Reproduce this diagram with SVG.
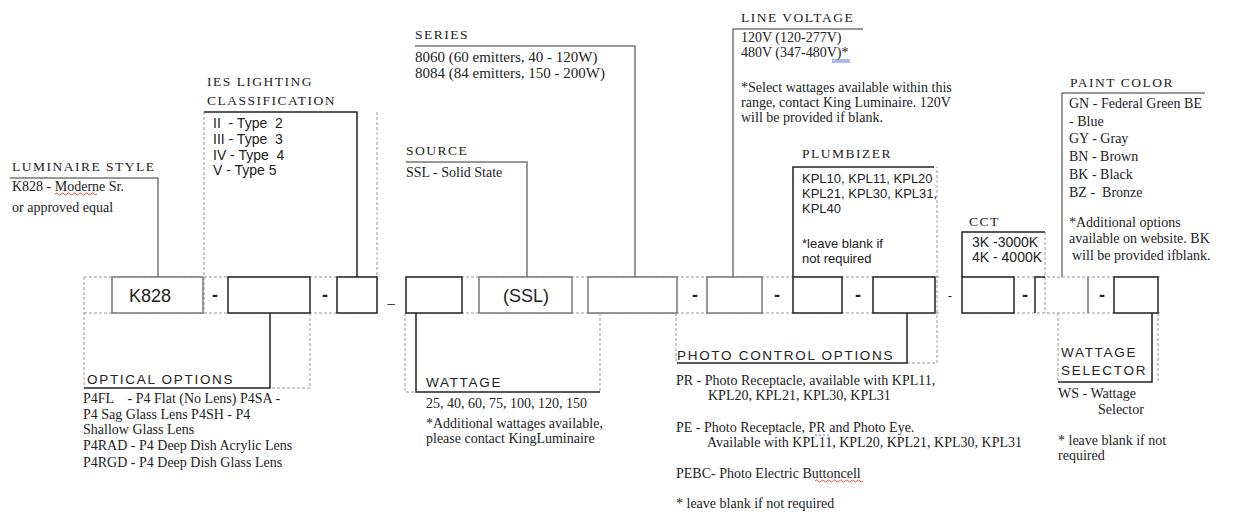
<svg xmlns="http://www.w3.org/2000/svg" width="1233" height="515" viewBox="0 0 1233 515">
<style>
text{fill:#222}
.h{font-family:"Liberation Serif",serif;font-size:13.5px;letter-spacing:1.5px}
.s{font-family:"Liberation Serif",serif;font-size:14px}
.s15{font-family:"Liberation Serif",serif;font-size:15px}
.a{font-family:"Liberation Sans",sans-serif;font-size:13px}
.a14{font-family:"Liberation Sans",sans-serif;font-size:14px}
.al{font-family:"Liberation Sans",sans-serif;font-size:13.5px;letter-spacing:1.7px}
.big{font-family:"Liberation Sans",sans-serif;font-size:18px}
.dash{font-family:"Liberation Sans",sans-serif;font-size:18px;font-weight:bold}
.bk{fill:#fff;stroke:#222;stroke-width:1.5}
.gy{fill:#fff;stroke:#777;stroke-width:1.5}
.dl{fill:none;stroke:#999;stroke-width:1;stroke-dasharray:3 2}
.cb{fill:none;stroke:#222;stroke-width:1.5}
.cg{fill:none;stroke:#777;stroke-width:1.5}
.sq{fill:none;stroke:#d22;stroke-width:0.8}
.bl{fill:none;stroke:#35c;stroke-width:0.8}
</style>

<g id="guides">
<path class="dl" d="M84 277H377M406 277H940M962 277H1160M84 313H377M406 313H940M962 313H1160"/>
<path class="dl" d="M84 277V388M204 112V313M377 112V277M310 313V388H270M405 313V392H416M600 313V392M676 313V363M907 363H937V167M1045 232V313M1058 313V382M1158 313V382"/>
</g>

<g id="connectors">
<path class="cg" d="M10 178H158V277"/>
<path class="cb" d="M204 112H357V277"/>
<path class="cg" d="M415 46H635V277"/>
<path class="cg" d="M406 162H527V277"/>
<path class="cg" d="M733 277V29H863"/>
<path class="cb" d="M793 277V167H934"/>
<path class="cb" d="M962 277V232H1045"/>
<path class="cg" d="M1062 277V93H1205"/>
<path class="cb" d="M270 313V388H84"/>
<path class="cb" d="M416 313V392H600"/>
<path class="cb" d="M907 313V363H677"/>
<path class="cb" d="M1152 313V382H1058"/>
</g>

<g id="row">
<rect class="gy" x="112" y="277" width="91" height="36"/>
<text class="big" x="150" y="302" text-anchor="middle">K828</text>
<text class="dash" x="215" y="301" text-anchor="middle">-</text>
<rect class="bk" x="228" y="277" width="82" height="36"/>
<text class="dash" x="325" y="301" text-anchor="middle">-</text>
<rect class="bk" x="337" y="277" width="40" height="36"/>
<text class="a" x="391" y="302" text-anchor="middle">_</text>
<rect class="bk" x="406" y="277" width="56" height="36"/>
<rect class="gy" x="479" y="277" width="93" height="36"/>
<text class="big" x="526" y="302" text-anchor="middle">(SSL)</text>
<rect class="gy" x="588" y="277" width="89" height="36"/>
<text class="dash" x="695" y="301" text-anchor="middle">-</text>
<rect class="gy" x="707" y="277" width="55" height="36"/>
<text class="dash" x="777" y="301" text-anchor="middle">-</text>
<rect class="bk" x="793" y="277" width="49" height="36"/>
<text class="dash" x="858" y="301" text-anchor="middle">-</text>
<rect class="bk" x="873" y="277" width="62" height="36"/>
<text class="a" x="950" y="300" text-anchor="middle">-</text>
<rect class="bk" x="962" y="277" width="52" height="36"/>
<text class="dash" x="1025" y="301" text-anchor="middle">-</text>
<path class="cb" d="M1035 313V277H1045"/>
<path class="cg" d="M1088 277V313"/>
<text class="dash" x="1102" y="301" text-anchor="middle">-</text>
<rect class="bk" x="1114" y="277" width="44" height="36"/>
</g>

<g id="luminaire-style">
<text class="h" x="12" y="171">LUMINAIRE STYLE</text>
<text class="s" x="12" y="191">K828 - Moderne Sr.</text>
<path class="sq" d="M55 194q1.5 -2 3 0t3 0t3 0t3 0t3 0t3 0t3 0t3 0t3 0t3 0t3 0t3 0t3 0t3 0"/>
<text class="s" x="12" y="212">or approved equal</text>
</g>

<g id="ies">
<text class="h" x="207" y="86">IES LIGHTING</text>
<text class="h" x="207" y="105">CLASSIFICATION</text>
<text class="a14" x="213" y="128" xml:space="preserve">II  - Type  2</text>
<text class="a14" x="213" y="144" xml:space="preserve">III - Type  3</text>
<text class="a14" x="213" y="160" xml:space="preserve">IV - Type  4</text>
<text class="a14" x="213" y="175">V - Type 5</text>
</g>

<g id="series">
<text class="h" x="415" y="39">SERIES</text>
<text class="s15" x="415" y="62">8060 (60 emitters, 40 - 120W)</text>
<text class="s15" x="415" y="78">8084 (84 emitters, 150 - 200W)</text>
</g>

<g id="source">
<text class="h" x="406" y="155">SOURCE</text>
<text class="s" x="406" y="177">SSL - Solid State</text>
</g>

<g id="line-voltage">
<text class="h" x="741" y="22">LINE VOLTAGE</text>
<text class="s" x="741" y="42">120V (120-277V)</text>
<text class="s" x="741" y="57">480V (347-480V)*</text>
<path class="bl" d="M832 60H850M832 62H850"/>
<text class="s" x="741" y="92">*Select wattages available within this</text>
<text class="s" x="741" y="107">range, contact King Luminaire. 120V</text>
<text class="s" x="741" y="122">will be provided if blank.</text>
</g>

<g id="plumbizer">
<text class="h" x="802" y="158">PLUMBIZER</text>
<text class="a" x="802" y="183">KPL10, KPL11, KPL20</text>
<text class="a" x="802" y="198">KPL21, KPL30, KPL31,</text>
<text class="a" x="802" y="213">KPL40</text>
<text class="a" x="802" y="248">*leave blank if</text>
<text class="a" x="802" y="263">not required</text>
</g>

<g id="cct">
<text class="h" x="969" y="226">CCT</text>
<text class="a14" x="972" y="247">3K -3000K</text>
<text class="a14" x="972" y="262">4K - 4000K</text>
</g>

<g id="paint-color">
<text class="h" x="1070" y="87">PAINT COLOR</text>
<text class="s" x="1069" y="108">GN - Federal Green BE</text>
<text class="s" x="1069" y="126">- Blue</text>
<text class="s" x="1069" y="143">GY - Gray</text>
<text class="s" x="1069" y="161">BN - Brown</text>
<text class="s" x="1069" y="179">BK - Black</text>
<text class="s" x="1069" y="197" xml:space="preserve">BZ -  Bronze</text>
<text class="s" x="1069" y="227">*Additional options</text>
<text class="s" x="1069" y="243">available on website. BK</text>
<text class="s" x="1072" y="260">will be provided ifblank.</text>
</g>

<g id="optical-options">
<text class="al" x="87" y="384">OPTICAL OPTIONS</text>
<text class="s" x="83" y="403" xml:space="preserve">P4FL    - P4 Flat (No Lens) P4SA -</text>
<text class="s" x="83" y="419">P4 Sag Glass Lens P4SH - P4</text>
<text class="s" x="83" y="434">Shallow Glass Lens</text>
<text class="s" x="83" y="450">P4RAD - P4 Deep Dish Acrylic Lens</text>
<text class="s" x="83" y="467">P4RGD - P4 Deep Dish Glass Lens</text>
</g>

<g id="wattage">
<text class="al" x="426" y="387">WATTAGE</text>
<text class="s" x="426" y="408">25, 40, 60, 75, 100, 120, 150</text>
<text class="s" x="426" y="428">*Additional wattages available,</text>
<text class="s" x="426" y="443">please contact KingLuminaire</text>
</g>

<g id="photo-control">
<text class="al" x="677" y="360">PHOTO CONTROL OPTIONS</text>
<text class="s" x="676" y="385">PR - Photo Receptacle, available with KPL11,</text>
<text class="s" x="708" y="400">KPL20, KPL21, KPL30, KPL31</text>
<text class="s" x="676" y="432">PE - Photo Receptacle, PR and Photo Eye.</text>
<path class="bl" d="M815 435H830" stroke-dasharray="2 2"/>
<text class="s" x="707" y="447">Available with KPL11, KPL20, KPL21, KPL30, KPL31</text>
<text class="s" x="676" y="478">PEBC- Photo Electric Buttoncell</text>
<path class="sq" d="M815 481q1.5 -2 3 0t3 0t3 0t3 0t3 0t3 0t3 0t3 0t3 0t3 0t3 0t3 0t3 0t3 0t3 0t3 0"/>
<text class="s" x="676" y="508">* leave blank if not required</text>
</g>

<g id="wattage-selector">
<text class="al" x="1061" y="357">WATTAGE</text>
<text class="al" x="1061" y="375">SELECTOR</text>
<text class="s" x="1058" y="398">WS - Wattage</text>
<text class="s" x="1098" y="414">Selector</text>
<text class="s" x="1058" y="445">* leave blank if not</text>
<text class="s" x="1058" y="460">required</text>
</g>
</svg>
